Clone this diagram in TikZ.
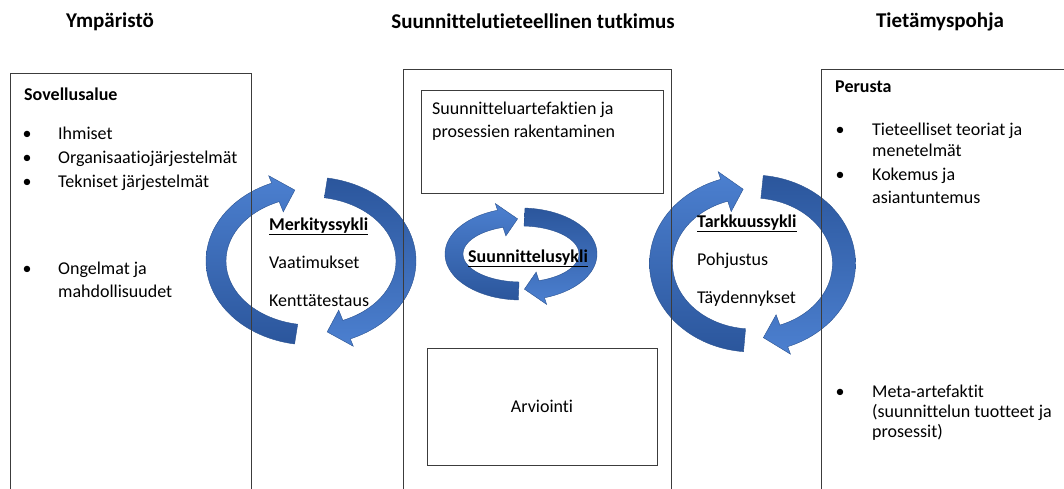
\documentclass[tikz,border=0pt]{standalone}
\usepackage{fontspec}
\setmainfont{Carlito}[Ligatures={NoCommon,NoRequired,NoContextual}]
\definecolor{ringlight}{HTML}{4C80D0}
\definecolor{ringdark}{HTML}{2B569C}
\definecolor{ringedge}{HTML}{2A5290}
\definecolor{frameline}{HTML}{3C3C3C}
% ring-shaped arrow on an ellipse: centre (#1,#2), radii #3/#4, band width #5,
% tail angle #6, head base angle #7, tip angle #8, style #9
\newcommand\ringarrow[9]{%
  \path[#9] plot[domain=#6:#7,samples=60] ({#1+#3*cos(\x)},{#2+#4*sin(\x)})
    -- ({#1+(#3+\ringout)*cos(#7)},{#2+(#4+\ringout)*sin(#7)})
    -- ({#1+(#3-0.6*#5)*cos(#8)},{#2+(#4-0.6*#5)*sin(#8)})
    -- ({#1+(#3-#5-\ringin)*cos(#7)},{#2+(#4-#5-\ringin)*sin(#7)})
    -- plot[domain=#7:#6,samples=60] ({#1+(#3-#5)*cos(\x)},{#2+(#4-#5)*sin(\x)})
    -- cycle;}
\def\ringout{8}
\def\ringin{11}
\tikzset{
  frame/.style={draw=frameline, line width=1pt},
  body/.style={font=\fontsize{18}{22}\selectfont, anchor=base west, inner sep=0pt},
  headtxt/.style={font=\fontsize{18}{22}\selectfont\bfseries, anchor=base west, inner sep=0pt},
  title/.style={font=\fontsize{21}{25}\selectfont\bfseries, anchor=base, inner sep=0pt},
  bul/.style={font=\fontsize{18}{22}\selectfont, anchor=base, inner sep=0pt},
  ringA/.style={top color=ringlight, bottom color=ringdark, draw=ringedge, line width=0.4pt},
  ringB/.style={top color=ringdark, bottom color=ringlight, draw=ringedge, line width=0.4pt},
}
\begin{document}
\begin{tikzpicture}[x=1pt,y=-1pt]
\useasboundingbox (0,0) rectangle (1064,489);

% cycles
\ringarrow{311}{261}{105}{84}{20}{99}{248}{260}{ringA}
\ringarrow{311}{261}{105}{84}{20}{279}{428}{440}{ringB}
\def\ringout{7}\def\ringin{9}
\ringarrow{521}{254}{76}{46}{18}{92}{252}{267}{ringA}
\ringarrow{521}{254}{76}{46}{18}{273}{432}{447}{ringB}
\def\ringout{8}\def\ringin{11}
\ringarrow{752.5}{263.5}{103}{88.5}{23}{95}{252}{264}{ringA}
\ringarrow{752.5}{263.5}{103}{88.5}{23}{276}{430}{443}{ringB}

% frames
\draw[frame] (10,489) -- (10,74) -- (251,74) -- (251,489);
\draw[frame] (403,489) -- (403,70) -- (671,70) -- (671,489);
\draw[frame] (821,489) -- (821,70) -- (1064,70);
\draw[frame] (421,91) rectangle (663,193);
\draw[frame] (427,348) rectangle (657,465);

% titles
\node[title] (t1) at (110,28) {Ympäristö};
\node[title] (t2) at (533,29) {Suunnittelutieteellinen tutkimus};
\node[title] (t3) at (940,28) {Tietämyspohja};

% application domain
\node[headtxt] (sov) at (24,101) {Sovellusalue};
\node[bul] (b1) at (27,140) {•};
\node[body] (l1) at (58,140) {Ihmiset};
\node[bul] (b2) at (27,164) {•};
\node[body] (l2) at (58,164) {Organisaatiojärjestelmät};
\node[bul] (b3) at (27,187) {•};
\node[body] (l3) at (58,187) {Tekniset järjestelmät};
\node[bul] (b4) at (27,274) {•};
\node[body] (l4) at (58,274) {Ongelmat ja};
\node[body] (l5) at (58,297) {mahdollisuudet};

% design research
\node[body] (m1) at (432,115) {Suunnitteluartefaktien ja};
\node[body] (m2) at (432,138) {prosessien rakentaminen};
\node[bul] (arv) at (542,412) {Arviointi};

% cycle labels
\node[headtxt] (c1) at (269,230) {\underline{Merkityssykli}};
\node[body] (c1a) at (269,268) {Vaatimukset};
\node[body] (c1b) at (269,306) {Kenttätestaus};
\node[headtxt] (c2) at (468,262) {\underline{Suunnittelusykli}};
\node[headtxt] (c3) at (697,227) {\underline{Tarkkuussykli}};
\node[body] (c3a) at (697,265) {Pohjustus};
\node[body] (c3b) at (697,303) {Täydennykset};

% knowledge base
\node[headtxt] (per) at (835,93) {Perusta};
\node[bul] (r1) at (840,136) {•};
\node[body] (k1) at (872,136) {Tieteelliset teoriat ja};
\node[body] (k2) at (872,157) {menetelmät};
\node[bul] (r2) at (840,180) {•};
\node[body] (k3) at (872,180) {Kokemus ja};
\node[body] (k4) at (872,203) {asiantuntemus};
\node[bul] (r3) at (840,397) {•};
\node[body] (k5) at (872,397) {Meta-artefaktit};
\node[body] (k6) at (872,417) {(suunnittelun tuotteet ja};
\node[body] (k7) at (872,437) {prosessit)};
\end{tikzpicture}
\end{document}
